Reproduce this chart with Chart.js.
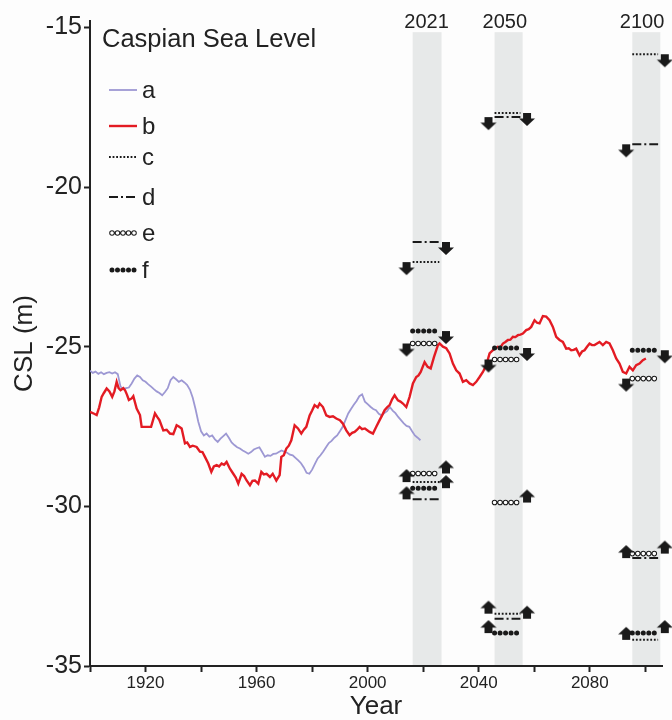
<!DOCTYPE html>
<html lang="en">
<head>
<meta charset="utf-8">
<script src="https://cdn.jsdelivr.net/npm/chart.js@4.4.1/dist/chart.umd.min.js"></script>
<style>
  body { margin: 0; background: #fdfdfd; }
  #chart { display: block; }
</style>
</head>
<body>
<canvas id="chart" width="672" height="720"></canvas>

<script type="text/javascript">
"use strict";

// series a (observed level)
var aYears = [1900,1901,1902,1903,1904,1905,1906,1907,1908,1909,1910,1911,1912,1913,1914,1915,1916,1917,1918,1919,
  1920,1921,1922,1923,1924,1925,1926,1927,1928,1929,1930,1931,1932,1933,1934,1935,1936,1937,1938,1939,
  1940,1941,1942,1943,1944,1945,1946,1947,1948,1949,1950,1951,1952,1953,1954,1955,1956,1957,1958,1959,
  1960,1961,1962,1963,1964,1965,1966,1967,1968,1969,1970,1971,1972,1973,1974,1975,1976,1977,1978,1979,
  1980,1981,1982,1983,1984,1985,1986,1987,1988,1989,1990,1991,1992,1993,1994,1995,1996,1997,1998,1999,
  2000,2001,2002,2003,2004,2005,2006,2007,2008,2009,2010,2011,2012,2013,2014,2015,2016,2017,2018,2019];
var aLevels = [-25.75,-25.82,-25.78,-25.85,-25.80,-25.86,-25.82,-25.80,-25.84,-25.80,-25.86,-26.25,-26.32,-26.30,-26.28,-26.15,-26.00,-25.90,-25.95,-26.05,
  -26.10,-26.18,-26.25,-26.33,-26.40,-26.45,-26.52,-26.42,-26.30,-26.05,-25.95,-26.02,-26.10,-26.05,-26.12,-26.20,-26.35,-26.60,-26.95,-27.35,
  -27.65,-27.78,-27.72,-27.82,-27.78,-27.90,-27.98,-27.88,-27.80,-27.72,-27.85,-28.00,-28.08,-28.15,-28.19,-28.25,-28.30,-28.35,-28.30,-28.22,
  -28.18,-28.15,-28.30,-28.45,-28.40,-28.42,-28.36,-28.35,-28.30,-28.25,-28.29,-28.32,-28.38,-28.40,-28.48,-28.56,-28.65,-28.78,-28.95,-28.98,
  -28.85,-28.67,-28.50,-28.40,-28.28,-28.15,-28.02,-27.95,-27.85,-27.78,-27.65,-27.51,-27.30,-27.09,-26.95,-26.82,-26.70,-26.55,-26.49,-26.72,
  -26.80,-26.88,-26.95,-26.99,-27.10,-27.15,-27.08,-27.02,-26.89,-27.00,-27.08,-27.20,-27.30,-27.40,-27.48,-27.51,-27.65,-27.78,-27.85,-27.93];

// series b (modelled level, to 2100)
var bYears = [1900,1901.5,1902.4,1903.3,1904.2,1905,1906,1907,1908,1908.8,1909.6,1910.3,1911,1912,1912.6,1913.3,1914,1915,1915.6,1916.8,
  1918,1918.6,1920,1922,1923.4,1924.2,1925,1926.4,1927.6,1928.8,1930,1931.2,1932,1933,1934.2,1935,1936,1937,1938.4,1939.6,
  1940.5,1941.4,1942.6,1943.7,1944.6,1945.6,1946.5,1947.4,1948.3,1949.2,1950.4,1951.6,1952.5,1953.4,1954.6,1955.5,1956.4,1957.6,1958.5,1959.4,
  1960.6,1961.7,1962.6,1963.6,1964.8,1965.8,1967.1,1968.3,1968.9,1969.8,1970.7,1971.6,1972.5,1973.7,1974.9,1976.1,1977,1977.9,1979.1,1980,
  1980.9,1982,1982.7,1983.9,1985.1,1986.3,1987.5,1988.7,1990,1991.1,1992.3,1993.5,1994.4,1995.3,1996.2,1997.1,1998,1999,2000.7,2001.9,
  2003.1,2004.3,2005.2,2006.1,2007,2007.9,2008.8,2009.7,2010.9,2011.8,2012.7,2013.9,2015.1,2016.3,2017.5,2018.3,2019.1,2020.5,2021.6,2022.7,
  2023.9,2025.3,2025.9,2027.1,2028.3,2029.5,2030.7,2031.9,2033.1,2034.3,2035.5,2036.7,2037.9,2039.1,2040.3,2041.5,2042.7,2043.9,2045.1,2046,
  2046.9,2047.8,2048.7,2049.6,2050.5,2051.4,2052.3,2053.2,2054.1,2055,2055.9,2057.1,2058,2058.9,2060.1,2061,2061.9,2063.1,2064.3,2065.5,
  2066.7,2067.9,2069.1,2070.3,2071.5,2072.4,2073.3,2074.2,2075.1,2076.3,2077.2,2078.1,2079,2079.9,2080.8,2081.7,2082.6,2083.5,2084.7,2085.9,
  2087.1,2088.3,2089.5,2090.7,2091.9,2093.1,2094.3,2095.5,2096.7,2097.9,2099.1,2100.2];
var bLevels = [-27.04,-27.10,-27.14,-26.90,-26.57,-26.45,-26.31,-26.40,-26.57,-26.40,-26.10,-26.30,-26.36,-26.30,-26.36,-26.50,-26.67,-26.62,-26.55,-26.94,
  -27.14,-27.51,-27.51,-27.51,-27.09,-27.20,-27.30,-27.62,-27.60,-27.72,-27.74,-27.46,-27.50,-27.56,-28.03,-28.00,-28.14,-28.10,-28.14,-28.29,
  -28.30,-28.45,-28.66,-28.92,-28.75,-28.71,-28.75,-28.66,-28.70,-28.61,-28.82,-28.98,-29.10,-29.29,-28.98,-29.05,-29.19,-29.34,-29.20,-29.19,
  -29.29,-28.92,-29.00,-28.98,-29.08,-28.98,-29.19,-29.02,-28.45,-28.40,-28.19,-28.10,-27.93,-27.46,-27.56,-27.72,-27.60,-27.51,-27.15,-27.00,
  -26.83,-26.90,-26.78,-26.89,-27.15,-27.20,-27.18,-27.25,-27.30,-27.41,-27.62,-27.77,-27.70,-27.67,-27.60,-27.51,-27.58,-27.56,-27.67,-27.72,
  -27.51,-27.30,-27.15,-26.99,-26.90,-26.83,-26.65,-26.52,-26.68,-26.72,-26.78,-26.89,-26.57,-26.15,-25.95,-25.90,-25.79,-25.48,-25.63,-25.68,
  -25.32,-24.95,-24.90,-25.00,-25.05,-25.21,-25.53,-25.74,-25.84,-26.10,-26.05,-26.15,-26.20,-26.10,-25.95,-25.79,-25.58,-25.21,-25.11,-25.05,
  -25.00,-25.02,-24.90,-24.85,-24.79,-24.78,-24.69,-24.70,-24.64,-24.62,-24.59,-24.48,-24.45,-24.38,-24.17,-24.25,-24.27,-24.04,-24.06,-24.17,
  -24.38,-24.69,-24.79,-24.85,-25.06,-25.05,-25.11,-25.10,-25.06,-25.27,-25.15,-25.11,-25.00,-24.90,-24.95,-24.95,-24.90,-24.85,-24.95,-24.85,
  -24.90,-25.11,-25.37,-25.53,-25.79,-25.84,-25.63,-25.74,-25.58,-25.53,-25.42,-25.37];

// forecast horizons and their shaded windows (years)
var horizons = ['2021', '2050', '2100'];
var horizonLabelAt = [2021.2, 2049.4, 2098.8];
var windowStart = [2016.2, 2045.7, 2095.3];
var windowEnd = [2026.6, 2055.8, 2105.4];
var windowTop = -15.15;

// projections c..f: upper bounds (arrow down) and lower bounds (arrow up)
var cUpper = [-22.35, -17.68, -15.84];
var dUpper = [-21.72, -17.81, -18.66];
var eUpper = [-24.90, -25.40, -26.00];
var fUpper = [-24.51, -25.04, -25.11];
var cLower = [-29.24, -33.36, -34.18];
var dLower = [-29.78, -33.52, -31.62];
var eLower = [-28.97, -29.88, -31.48];
var fLower = [-29.43, -33.97, -33.97];

// which end of the segment carries the arrow
var cUpperSide = ['L', 'R', 'R'];
var dUpperSide = ['R', 'L', 'L'];
var eUpperSide = ['L', 'L', 'L'];
var fUpperSide = ['R', 'R', 'R'];
var cLowerSide = ['L', 'L', 'L'];
var dLowerSide = ['L', 'R', 'L'];
var eLowerSide = ['R', 'R', 'R'];
var fLowerSide = ['R', 'L', 'R'];

var yTicks = [-35, -30, -25, -20, -15];
var xTicks = [1900, 1920, 1940, 1960, 1980, 2000, 2020, 2040, 2060, 2080, 2100];
var xLabelled = [1920, 1960, 2000, 2040, 2080];
var legendKeys = ['a', 'b', 'c', 'd', 'e', 'f'];

var INK = '#1a1a1a';
var FONT = "'Liberation Sans', Arial, Helvetica, sans-serif";
var styles = {
	a: { color: '#9d98d3', width: 1.8, dash: [], cap: 'butt' },
	b: { color: '#e31b23', width: 2.4, dash: [], cap: 'butt' },
	c: { color: INK, width: 2, dash: [1.8, 1.8], cap: 'butt' },
	d: { color: INK, width: 2, dash: [9, 3, 2, 3], cap: 'butt' },
	e: { color: INK, width: 5.6, dash: [0, 5.5], cap: 'round', hole: 3.6 },
	f: { color: INK, width: 5, dash: [0, 5.5], cap: 'round' }
};

function series(years, levels) {
	return years.map(function (y, i) { return { x: y, y: levels[i] }; });
}

function segments(upper, lower) {
	var pts = [];
	for (var i = 0; i < horizons.length; i++) {
		[upper[i], lower[i]].forEach(function (lvl) {
			var x1 = windowEnd[i] - 0.8;
			pts.push({ x: windowStart[i], y: lvl }, { x: x1, y: lvl }, { x: x1, y: null });
		});
	}
	return pts;
}

function arrows(levels, sides) {
	return levels.map(function (lvl, i) {
		return { x: sides[i] === 'L' ? windowStart[i] - 2.2 : windowEnd[i] + 1.6, y: lvl };
	});
}

// block arrow drawn in one half of the image so its flat end sits on the point
function makeArrow(dir) {
	var c = document.createElement('canvas');
	c.width = 18; c.height = 28;
	var g = c.getContext('2d');
	g.fillStyle = INK;
	g.save();
	if (dir === 'up') {
		g.translate(0, 28);
		g.scale(1, -1);
	}
	g.beginPath();
	g.moveTo(5, 14); g.lineTo(13, 14); g.lineTo(13, 19.5); g.lineTo(17, 19.5);
	g.lineTo(9, 27); g.lineTo(1, 19.5); g.lineTo(5, 19.5);
	g.closePath();
	g.fill();
	g.restore();
	return c;
}

function lineSet(key, data, order, override) {
	var s = styles[key];
	var ds = {
		data: data, order: order,
		borderColor: s.color, borderWidth: s.width, borderDash: s.dash,
		borderCapStyle: s.cap, pointRadius: 0, tension: 0, spanGaps: false
	};
	for (var k in override) ds[k] = override[k];
	return ds;
}

function strokeSample(ctx, key, x0, x1, y) {
	var s = styles[key];
	ctx.save();
	ctx.lineCap = s.cap;
	ctx.setLineDash(s.dash);
	ctx.strokeStyle = s.color;
	ctx.lineWidth = s.width;
	ctx.beginPath(); ctx.moveTo(x0, y); ctx.lineTo(x1, y); ctx.stroke();
	if (s.hole) {
		ctx.strokeStyle = '#ffffff';
		ctx.lineWidth = s.hole;
		ctx.beginPath(); ctx.moveTo(x0, y); ctx.lineTo(x1, y); ctx.stroke();
	}
	ctx.restore();
}

var decor = {
	id: 'decor',
	beforeDatasetsDraw: function (chart) {
		var ctx = chart.ctx, xs = chart.scales.x, ys = chart.scales.y;
		var top = ys.getPixelForValue(windowTop);
		ctx.save();
		ctx.fillStyle = '#e7e9e9';
		for (var i = 0; i < horizons.length; i++) {
			var x0 = xs.getPixelForValue(windowStart[i]);
			var x1 = xs.getPixelForValue(windowEnd[i]);
			ctx.fillRect(x0, top, x1 - x0, chart.chartArea.bottom - 1 - top);
		}
		ctx.restore();
	},
	afterDraw: function (chart) {
		var ctx = chart.ctx, xs = chart.scales.x;
		ctx.save();
		ctx.fillStyle = '#222';
		ctx.textBaseline = 'alphabetic';

		ctx.font = '20px ' + FONT;
		ctx.textAlign = 'center';
		for (var i = 0; i < horizons.length; i++) {
			ctx.fillText(horizons[i], xs.getPixelForValue(horizonLabelAt[i]), 28);
		}

		ctx.textAlign = 'left';
		ctx.font = '25.5px ' + FONT;
		ctx.fillText('Caspian Sea Level', 102, 46.5);

		var rows = [90, 126, 157, 197, 233, 270];
		ctx.font = '24px ' + FONT;
		legendKeys.forEach(function (k, j) {
			var dotted = styles[k].cap === 'round';
			strokeSample(ctx, k, dotted ? 112 : 109, dotted ? 135 : 137, rows[j]);
			ctx.fillText(k, 142, rows[j] + 8);
		});
		ctx.restore();
	}
};

var down = makeArrow('down');
var up = makeArrow('up');

var eWhite = { borderColor: '#ffffff', borderWidth: styles.e.hole };

var datasets = [
	lineSet('a', series(aYears, aLevels), 6),
	lineSet('b', series(bYears, bLevels), 5),
	lineSet('c', segments(cUpper, cLower), 4),
	lineSet('d', segments(dUpper, dLower), 4),
	lineSet('f', segments(fUpper, fLower), 4),
	lineSet('e', segments(eUpper, eLower), 3),
	lineSet('e', segments(eUpper, eLower), 2, eWhite),
	{
		data: [].concat(arrows(cUpper, cUpperSide), arrows(dUpper, dUpperSide),
			arrows(eUpper, eUpperSide), arrows(fUpper, fUpperSide)),
		order: 1, showLine: false, pointStyle: down, pointRadius: 9, clip: false
	},
	{
		data: [].concat(arrows(cLower, cLowerSide), arrows(dLower, dLowerSide),
			arrows(eLower, eLowerSide), arrows(fLower, fLowerSide)),
		order: 1, showLine: false, pointStyle: up, pointRadius: 9, clip: false
	}
];

Chart.defaults.font.family = FONT;
Chart.defaults.color = '#222';

new Chart(document.getElementById('chart'), {
	type: 'line',
	data: { datasets: datasets },
	options: {
		responsive: false,
		animation: false,
		events: [],
		layout: { padding: { top: 21, right: 9, left: 0, bottom: 0 } },
		plugins: { legend: { display: false }, tooltip: { enabled: false } },
		scales: {
			x: {
				type: 'linear', min: 1900, max: 2106,
				afterBuildTicks: function (s) { s.ticks = xTicks.map(function (v) { return { value: v }; }); },
				afterFit: function (s) { s.height = 54; },
				ticks: {
					autoSkip: false, maxRotation: 0, padding: 1,
					font: { size: 17 },
					callback: function (v) { return xLabelled.indexOf(v) >= 0 ? String(v) : ''; }
				},
				grid: { drawOnChartArea: false, tickLength: 6, tickColor: '#222', tickWidth: 2 },
				border: { color: '#222', width: 2 },
				title: { display: true, text: 'Year', font: { size: 26, lineHeight: 1 }, padding: 0 }
			},
			y: {
				type: 'linear', min: -35, max: -14.8,
				afterBuildTicks: function (s) { s.ticks = yTicks.map(function (v) { return { value: v }; }); },
				afterFit: function (s) { s.width = 90; },
				ticks: { padding: 2, font: { size: 25 }, callback: function (v) { return String(v); } },
				grid: { drawOnChartArea: false, tickLength: 6, tickColor: '#222', tickWidth: 2 },
				border: { color: '#222', width: 2 },
				title: { display: true, text: 'CSL (m)', font: { size: 26, lineHeight: 1 }, padding: { top: 12, bottom: 0 } }
			}
		}
	},
	plugins: [decor]
});
</script>
</body>
</html>
